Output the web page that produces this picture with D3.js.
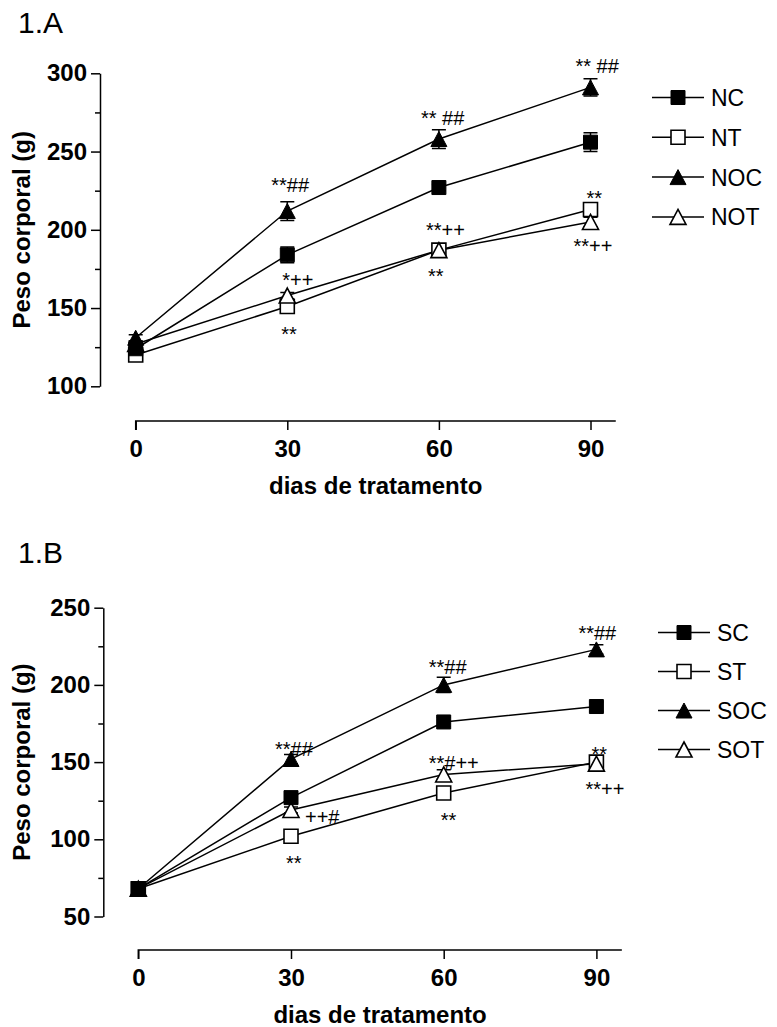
<!DOCTYPE html>
<html>
<head>
<meta charset="utf-8">
<script src="https://cdn.jsdelivr.net/npm/d3@7"></script>
<style>
  html, body { margin: 0; padding: 0; background: #fff; }
  svg { display: block; font-family: "Liberation Sans", Arial, sans-serif; }
</style>
</head>
<body>
<svg id="chart" width="777" height="1027"></svg>
<script>
// ---------------- DATA ----------------
const days = [0, 30, 60, 90];
const xTickValues = [0, 30, 60, 90];

// Panel 1.A
const panelAYTicks = [100, 150, 200, 250, 300];
const panelAYMinor = [125, 175, 225, 275];
const seriesA = ["NC", "NT", "NOC", "NOT"];
const NC  = [124, 184, 227, 256];
const NC_err  = [2, 5, 2, 6];
const NT  = [120, 151, 187, 213];
const NT_err  = [2, 2, 3, 3];
const NOC = [131, 212, 258, 291];
const NOC_err = [2, 6, 6, 5.5];
const NOT = [127, 158, 187, 205];
const NOT_err = [2, 2, 3, 3];

// Panel 1.B
const panelBYTicks = [50, 100, 150, 200, 250];
const panelBYMinor = [75, 125, 175, 225];
const seriesB = ["SC", "ST", "SOC", "SOT"];
const SC  = [68, 127, 176, 186];
const SC_err  = [2, 3, 3, 3];
const ST  = [68, 102, 130, 150];
const ST_err  = [2, 2, 3, 3];
const SOC = [68, 152, 200, 223];
const SOC_err = [2, 3, 5, 3];
const SOT = [68, 119, 142, 149];
const SOT_err = [2, 2, 3, 3];

// significance annotations: [series, day, text]
const annotA = [
  ["NOC", 30, "**##"], ["NOT", 30, "*++"], ["NT", 30, "**"],
  ["NOC", 60, "** ##"], ["NOT", 60, "**++"], ["NT", 60, "**"],
  ["NOC", 90, "** ##"], ["NT", 90, "**"], ["NOT", 90, "**++"]
];
const annotB = [
  ["SOC", 30, "**##"], ["SOT", 30, "++#"], ["ST", 30, "**"],
  ["SOC", 60, "**##"], ["SOT", 60, "**#++"], ["ST", 60, "**"],
  ["SOC", 90, "**##"], ["ST", 90, "**"], ["SOT", 90, "**++"]
];

// ---------------- LAYOUT / STYLE ----------------
const markerKind = { C: "fsquare", T: "osquare", OC: "ftriangle", OT: "otriangle" };
// annotation offsets in px (relative to marker centre), same order as annot arrays
const annotOffA = [[-16,-19],[-5,-9],[-6,35],[-18,-14],[-13,-13],[-11,33],[-15,-14],[-4,-4],[-17,31]];
const annotOffB = [[-16,-3],[14,14],[-5,34],[-15,-11],[-15,-4],[-3,34],[-18,-9],[-5,-1],[-11,32]];

const svg = d3.select("#chart");

function markerPath(kind) {
  if (kind.endsWith("square")) {
    const s = 7;
    return `M${-s},${-s}H${s}V${s}H${-s}Z`;
  }
  const w = 8, h = 7.5;
  return `M0,${-h}L${w},${h}L${-w},${h}Z`;
}
function kindOf(name) {
  const suffix = name.slice(1);
  return markerKind[suffix];
}
function drawMarker(g, kind, x, y) {
  const filled = kind.startsWith("f");
  g.append("path")
    .attr("d", markerPath(kind))
    .attr("transform", `translate(${x},${y})`)
    .attr("fill", filled ? "#000" : "#fff")
    .attr("stroke", "#000")
    .attr("stroke-width", filled ? 1 : 1.6);
}

function drawPanel(cfg) {
  const g = svg.append("g");
  const x = d3.scaleLinear().domain([0, 95]).range([cfg.x0, cfg.x0 + 95 * cfg.pxPerDay]);
  const y = d3.scaleLinear().domain(cfg.yDomain).range(cfg.yRange);

  // panel label
  g.append("text").attr("x", 18).attr("y", cfg.labelY)
    .attr("font-size", 30).text(cfg.label);

  // y axis
  const yAxis = d3.axisLeft(y).tickValues(cfg.yTicks).tickSize(9).tickSizeOuter(0).tickPadding(4);
  const ya = g.append("g").attr("transform", `translate(${cfg.yAxisX},0)`).call(yAxis);
  ya.select(".domain").attr("stroke-width", 1.5);
  ya.selectAll(".tick line").attr("stroke-width", 1.5);
  ya.selectAll(".tick text").attr("font-size", 24).attr("font-weight", "bold")
    .attr("font-family", "Liberation Sans, Arial, sans-serif").attr("fill", "#000");
  const yMinor = d3.axisLeft(y).tickValues(cfg.yMinor).tickSize(5).tickSizeOuter(0).tickFormat("");
  const ym = g.append("g").attr("transform", `translate(${cfg.yAxisX},0)`).call(yMinor);
  ym.select(".domain").remove();
  ym.selectAll(".tick line").attr("stroke-width", 1.5);

  // x axis
  const xAxis = d3.axisBottom(x).tickValues(xTickValues).tickSize(9).tickSizeOuter(0).tickPadding(10);
  const xa = g.append("g").attr("transform", `translate(0,${cfg.xAxisY})`).call(xAxis);
  xa.select(".domain").attr("stroke-width", 1.5).attr("d", `M${x(0)},${9}V0H${x(95)}`);
  xa.selectAll(".tick line").attr("stroke-width", 1.5);
  xa.selectAll(".tick text").attr("font-size", 24).attr("font-weight", "bold")
    .attr("font-family", "Liberation Sans, Arial, sans-serif").attr("fill", "#000");

  // axis titles
  g.append("text")
    .attr("x", (x(0) + x(95)) / 2).attr("y", cfg.xAxisY + 73)
    .attr("text-anchor", "middle").attr("font-size", 24).attr("font-weight", "bold")
    .text("dias de tratamento");
  const yMid = (y(cfg.yDomain[0]) + y(cfg.yDomain[1])) / 2;
  g.append("text")
    .attr("transform", `translate(30,${yMid}) rotate(-90)`)
    .attr("text-anchor", "middle").attr("font-size", 24).attr("font-weight", "bold")
    .text("Peso corporal (g)");

  // lines
  const line = d3.line().x((d, i) => x(days[i])).y(d => y(d));
  const order = cfg.drawOrder;
  order.forEach(name => {
    g.append("path").datum(cfg.values[name]).attr("d", line)
      .attr("fill", "none").attr("stroke", "#000").attr("stroke-width", 1.5);
  });
  // error bars + markers
  order.forEach(name => {
    const vals = cfg.values[name], errs = cfg.errors[name];
    vals.forEach((v, i) => {
      const cx = x(days[i]);
      const top = y(v + errs[i]), bot = y(v - errs[i]);
      g.append("path")
        .attr("d", `M${cx},${top}V${bot}M${cx - 7},${top}H${cx + 7}M${cx - 7},${bot}H${cx + 7}`)
        .attr("stroke", "#000").attr("stroke-width", 1.5).attr("fill", "none");
    });
  });
  order.forEach(name => {
    const vals = cfg.values[name];
    vals.forEach((v, i) => drawMarker(g, kindOf(name), x(days[i]), y(v)));
  });

  // annotations
  cfg.annot.forEach((a, k) => {
    const [name, day, txt] = a;
    const idx = days.indexOf(day);
    const off = cfg.annotOff[k];
    g.append("text")
      .attr("x", x(day) + off[0]).attr("y", y(cfg.values[name][idx]) + off[1])
      .attr("font-size", 20).attr("xml:space", "preserve").style("white-space", "pre")
      .text(txt);
  });

  // legend
  cfg.series.forEach((name, k) => {
    const ly = cfg.legY + k * cfg.legStep;
    g.append("line").attr("x1", cfg.legX).attr("x2", cfg.legX + 52)
      .attr("y1", ly).attr("y2", ly).attr("stroke", "#000").attr("stroke-width", 1.5);
    drawMarker(g, kindOf(name), cfg.legX + 26, ly);
    g.append("text").attr("x", cfg.legX + 59).attr("y", ly + 8.5)
      .attr("font-size", 23).text(name);
  });
}

drawPanel({
  label: "1.A", labelY: 33,
  x0: 135.7, pxPerDay: 151.6 / 30, yAxisX: 100, xAxisY: 421,
  yDomain: [100, 300], yRange: [386.3, 73.3],
  yTicks: panelAYTicks, yMinor: panelAYMinor,
  series: seriesA, drawOrder: ["NT", "NOT", "NOC", "NC"],
  values: { NC: NC, NT: NT, NOC: NOC, NOT: NOT },
  errors: { NC: NC_err, NT: NT_err, NOC: NOC_err, NOT: NOT_err },
  annot: annotA, annotOff: annotOffA,
  legX: 652, legY: 97.5, legStep: 39.8
});

drawPanel({
  label: "1.B", labelY: 563,
  x0: 138.3, pxPerDay: 152.7 / 30, yAxisX: 103.3, xAxisY: 950,
  yDomain: [50, 250], yRange: [916.5, 607.7],
  yTicks: panelBYTicks, yMinor: panelBYMinor,
  series: seriesB, drawOrder: ["ST", "SOT", "SOC", "SC"],
  values: { SC: SC, ST: ST, SOC: SOC, SOT: SOT },
  errors: { SC: SC_err, ST: ST_err, SOC: SOC_err, SOT: SOT_err },
  annot: annotB, annotOff: annotOffB,
  legX: 658, legY: 632.5, legStep: 39
});
</script>
</body>
</html>
